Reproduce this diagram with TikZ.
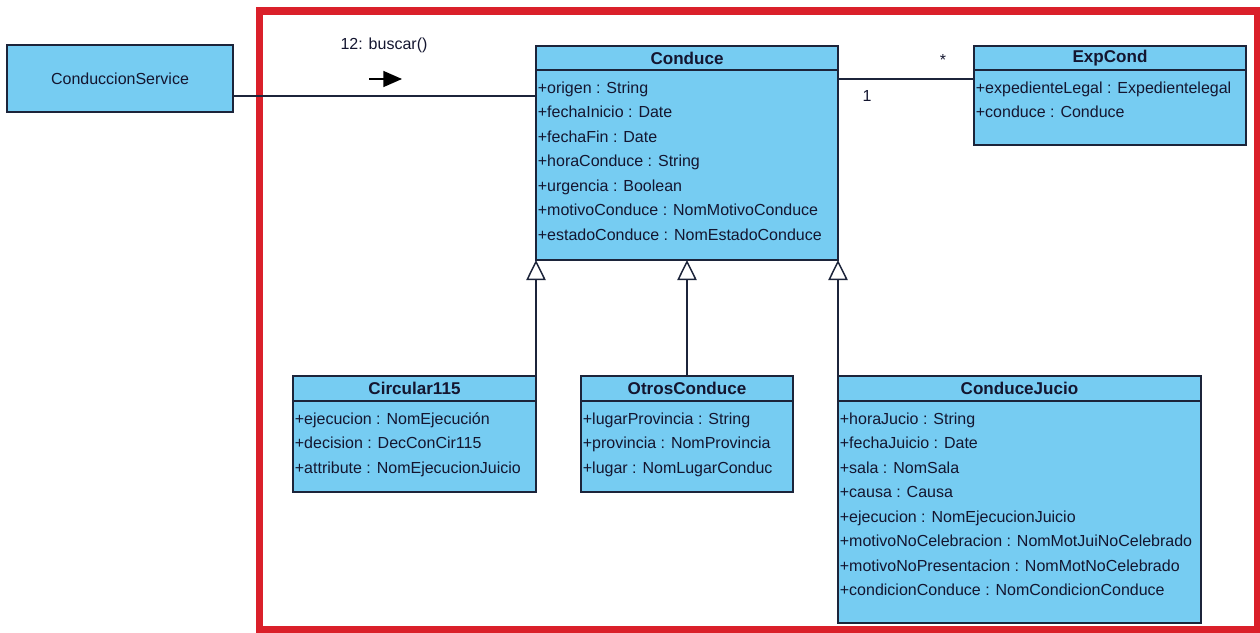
\documentclass[tikz,border=0pt]{standalone}
\usepackage{fontspec}
\setmainfont{Liberation Sans}
\usetikzlibrary{positioning,arrows.meta}
\definecolor{umlblue}{RGB}{118,204,242}
\definecolor{umlline}{RGB}{28,36,58}
\definecolor{umltext}{RGB}{20,22,48}
\definecolor{framered}{RGB}{218,32,42}
\tikzset{
    classhead/.style={draw=umlline, fill=umlblue, line width=1.1pt, inner sep=0pt, outer sep=0pt, text=umltext, font=\bfseries\fontsize{12.8}{14}\selectfont},
    classbody/.style={draw=umlline, fill=umlblue, line width=1.1pt, inner sep=0pt, outer sep=0pt},
    attrs/.style={anchor=north west, align=left, inner xsep=1.2pt, inner ysep=8.4pt, text=umltext, font=\fontsize{12}{18.4}\selectfont},
    plain/.style={text=umltext, font=\fontsize{12}{14}\selectfont, inner sep=0pt},
    link/.style={draw=umlline, line width=1.1pt},
    inherit/.style={link, -{Triangle[width=14.5pt, length=15pt, fill=white, line width=1.1pt]}}
}
\begin{document}
\begin{tikzpicture}[x=0.75pt, y=-0.75pt]
    \useasboundingbox (0,0) rectangle (1260,632);
    \draw[framered, line width=5.4pt] (259.5,11) rectangle (1257.5,629.5);

    \node[classbody, plain, anchor=north west, minimum width=169.5pt, minimum height=50.25pt] (svc) at (7,45) {ConduccionService};

    % Conduce
    \node[classhead, anchor=north west, minimum width=226.5pt, minimum height=18pt] (conduceH) at (536,46) {Conduce};
    \node[classbody, below=0pt of conduceH, minimum width=226.5pt, minimum height=142.5pt] (conduceB) {};
    \node[attrs] (conduceA) at (conduceB.north west) {+origen : String\\+fechaInicio : Date\\+fechaFin : Date\\+horaConduce : String\\+urgencia : Boolean\\+motivoConduce : NomMotivoConduce\\+estadoConduce : NomEstadoConduce};

    % ExpCond
    \node[classhead, anchor=north west, minimum width=204pt, minimum height=18pt] (expH) at (974,46) {ExpCond};
    \node[classbody, below=0pt of expH, minimum width=204pt, minimum height=56.25pt] (expB) {};
    \node[attrs] (expA) at (expB.north west) {+expedienteLegal : Expedientelegal\\+conduce : Conduce};

    % subclases
    \node[classhead, anchor=north west, minimum width=182.25pt, minimum height=18.75pt] (circH) at (293,376) {Circular115};
    \node[classbody, below=0pt of circH, minimum width=182.25pt, minimum height=68.25pt] (circB) {};
    \node[attrs] (circA) at (circB.north west) {+ejecucion : NomEjecución\\+decision : DecConCir115\\+attribute : NomEjecucionJuicio};

    \node[classhead, anchor=north west, minimum width=159pt, minimum height=18.75pt] (otrosH) at (581,376) {OtrosConduce};
    \node[classbody, below=0pt of otrosH, minimum width=159pt, minimum height=68.25pt] (otrosB) {};
    \node[attrs] (otrosA) at (otrosB.north west) {+lugarProvincia : String\\+provincia : NomProvincia\\+lugar : NomLugarConduc};

    \node[classhead, anchor=north west, minimum width=272.25pt, minimum height=18.75pt] (jucioH) at (838,376) {ConduceJucio};
    \node[classbody, below=0pt of jucioH, minimum width=272.25pt, minimum height=166.5pt] (jucioB) {};
    \node[attrs] (jucioA) at (jucioB.north west) {+horaJucio : String\\+fechaJuicio : Date\\+sala : NomSala\\+causa : Causa\\+ejecucion : NomEjecucionJuicio\\+motivoNoCelebracion : NomMotJuiNoCelebrado\\+motivoNoPresentacion : NomMotNoCelebrado\\+condicionConduce : NomCondicionConduce};

    % llamada
    \coordinate (callin) at ([yshift=-19.5pt]conduceB.north west);
    \draw[link] (svc.east |- callin) -- (callin);
    \node[plain] (calltxt) at (384,45) {12: buscar()};
    \coordinate (msgA) at (369,79);
    \coordinate (msgB) at (402,79);
    \draw[link, black, -{Triangle[width=12pt, length=14pt]}] (msgA) -- (msgB);

    % asociacion
    \draw[link] ([yshift=-6.75pt]conduceB.north east) -- ([yshift=-6.75pt]expB.north west);
    \node[plain] (many) at (943,60) {*};
    \node[plain] (one) at (867,96) {1};

    % herencia
    \draw[inherit] (circH.north east) -- (conduceB.south west);
    \draw[inherit] (otrosH.north) -- (otrosH.north |- conduceB.south);
    \draw[inherit] (jucioH.north west) -- (conduceB.south east);
\end{tikzpicture}
\end{document}
